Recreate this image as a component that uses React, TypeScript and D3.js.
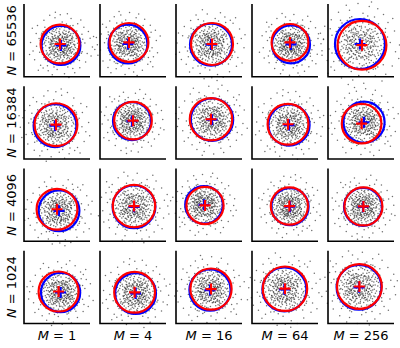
import React, { useEffect, useRef } from "react";
import * as d3 from "d3";

// row / column labels
const nLabels = ["65536", "16384", "4096", "1024"];
const mLabels = ["1", "4", "16", "64", "256"];

// fitted circle (red) per panel: [cx, cy, r], rows = N, cols = M
const redFits = [
  [[0.15, -0.18, 0.97], [-0.2, -0.1, 0.97], [0.15, -0.18, 1.05], [0.25, -0.1, 0.92], [0.05, -0.24, 1.22]],
  [[-0.05, -0.1, 1.07], [0.0, 0.1, 0.94], [0.1, 0.17, 1.06], [0.15, -0.08, 1.02], [0.03, -0.05, 0.99]],
  [[0.0, -0.22, 1.02], [0.05, -0.06, 1.06], [-0.2, -0.03, 0.93], [0.22, -0.06, 0.93], [0.12, -0.08, 0.95]],
  [[0.08, -0.22, 1.0], [0.08, -0.26, 1.02], [0.1, -0.1, 1.03], [0.0, -0.08, 1.11], [-0.08, 0.03, 1.12]],
];

// true circle (blue) per panel: [cx, cy, r]
const blueFits = [
  [[0.2, -0.25, 0.97], [-0.25, -0.18, 0.97], [0.1, -0.21, 1.05], [0.3, -0.2, 0.95], [-0.05, -0.18, 1.25]],
  [[-0.1, -0.15, 1.07], [-0.05, 0.08, 0.95], [0.15, 0.15, 1.06], [0.2, -0.12, 1.03], [0.15, 0.02, 1.03]],
  [[0.1, -0.3, 1.02], [0.05, -0.1, 1.07], [-0.25, 0.0, 0.94], [0.25, -0.09, 0.93], [0.1, -0.1, 0.95]],
  [[0.18, -0.27, 0.98], [0.13, -0.32, 1.02], [0.05, -0.15, 1.03], [-0.03, -0.12, 1.1], [-0.1, -0.01, 1.12]],
];

// sample cloud, in units of the circle radius
const cloud = [
  [0.12,-0.35],[-0.48,0.22],[0.71,0.05],[-0.09,0.63],[0.33,0.41],[-0.62,-0.47],[0.05,-0.81],[0.88,-0.29],[-0.27,-0.14],[0.44,-0.66],
  [-0.75,0.38],[0.19,0.92],[-0.36,0.71],[0.57,0.28],[-0.93,-0.12],[0.02,0.17],[0.66,-0.84],[-0.15,-0.55],[0.29,-0.07],[-0.52,0.04],
  [1.12,0.31],[-0.21,1.05],[0.39,0.66],[-0.81,-0.73],[0.14,-0.23],[-0.04,-0.38],[0.77,0.52],[-0.41,-0.92],[0.53,-0.41],[-0.68,0.81],
  [0.24,0.08],[-0.31,0.36],[0.91,-0.06],[-0.11,-1.02],[0.47,1.01],[-1.07,0.27],[0.08,0.45],[-0.58,-0.26],[0.36,-0.95],[-0.19,0.12],
  [0.62,-0.18],[-0.44,0.57],[0.17,-0.62],[-0.87,0.09],[0.49,0.13],[-0.23,-0.76],[0.81,0.74],[-0.06,0.84],[0.31,-0.31],[-0.71,-0.39],
  [0.03,-0.12],[0.58,0.47],[-0.37,-0.05],[0.26,0.29],[-0.54,0.93],[0.94,-0.51],[-0.12,0.31],[0.41,-0.14],[-0.96,-0.44],[0.09,0.68],
  [-0.29,-0.33],[0.72,-0.43],[-0.63,0.18],[0.21,-0.48],[-0.08,0.51],[0.55,0.88],[-0.79,-0.02],[0.35,-1.12],[-0.46,0.44],[1.03,0.16],
  [-0.17,-0.21],[0.13,0.33],[-0.56,-0.61],[0.68,0.21],[-0.33,0.98],[0.46,-0.28],[-1.01,0.53],[0.11,-0.41],[-0.24,0.66],[0.84,-0.72],
  [-0.02,-0.64],[0.39,0.19],[-0.67,-0.83],[0.16,0.78],[-0.43,-0.18],[0.74,-0.11],[-0.14,0.44],[0.52,-0.57],[-0.89,0.31],[0.27,-0.86],
  [-0.51,0.27],[0.06,0.02],[0.63,0.61],[-0.34,-0.49],[0.98,0.37],[-0.72,0.63],[0.18,-0.17],[-0.07,-0.88],[0.43,0.83],[-0.61,-0.11],
  [0.32,-0.52],[-0.26,0.19],[0.85,0.11],[-0.47,-0.71],[0.01,0.95],[0.59,-0.33],[-0.82,-0.58],[0.22,0.57],[-0.13,-0.29],[0.69,-0.64],
  [-0.39,0.83],[0.1,-0.74],[-0.66,0.45],[0.37,0.04],[-0.18,-0.43],[0.79,0.35],[-0.53,-0.35],[0.25,-0.25],[-0.92,0.71],[0.48,0.52],
  [-0.28,0.05],[0.15,-0.97],[-0.59,0.66],[0.67,-0.23],[-0.04,0.27],[0.42,0.71],[-0.76,-0.28],[0.3,-0.69],[-0.22,0.87],[0.9,0.24],
  [-0.49,-0.03],[0.07,-0.31],[0.61,0.39],[-0.35,-0.64],[0.2,0.41],[-0.84,0.16],[0.54,-0.79],[-0.1,0.72],[0.34,-0.01],[-0.65,-0.53],
  [0.76,0.63],[-0.2,-0.09],[0.12,0.61],[-0.42,0.36],[0.86,-0.36],[-0.01,-0.49],[0.45,0.25],[-0.74,0.54],[0.28,-0.43],[-0.3,-0.81],
  [0.64,0.06],[-0.55,0.12],[0.04,0.38],[0.5,-0.95],[-0.97,-0.24],[0.23,0.96],[-0.16,-0.67],[0.73,-0.55],[-0.45,0.74],[0.38,-0.2],
  [-0.06,-0.16],[0.56,0.34],[-0.69,-0.71],[0.14,-0.53],[-0.32,0.48],[0.95,0.02],[-0.25,-0.37],[0.4,0.9],[-0.78,0.25],[0.19,-0.05],
  [-0.57,-0.44],[0.66,-0.46],[-0.03,0.58],[0.31,0.17],[-0.88,-0.62],[0.5,-0.12],[-0.14,0.96],[0.8,0.45],[-0.4,-0.25],[0.09,-0.85],
  [-0.63,0.35],[0.26,0.73],[-0.21,-0.57],[0.7,-0.02],[-0.5,0.61],[0.35,-0.62],[-0.95,0.04],[0.12,0.24],[-0.37,-0.99],[0.6,0.77],
  [-0.12,0.4],[0.83,-0.17],[-0.6,-0.15],[0.17,-0.37],[-0.27,0.79],[0.51,0.6],[-0.73,-0.46],[0.29,0.48],[-0.09,-0.72],[0.75,-0.38],
  [1.35,-0.42],[-1.28,0.61],[0.52,1.38],[-0.66,-1.31],[1.5,0.37],[-1.44,-0.29],[0.18,-1.46],[-0.31,1.42],[1.18,0.94],[-1.05,-1.02],
  [0.97,-1.15],[-1.21,1.03],[1.62,-0.08],[-0.04,1.58],[1.27,-0.86],[-1.57,0.15],[0.71,-1.41],[-0.88,1.29],[1.41,0.71],[-1.36,-0.74],
  [0.33,1.63],[-0.45,-1.52],[1.09,-0.33],[-1.13,0.35],[0.86,1.12],[-0.92,-1.16],[1.23,0.12],[-0.2,-1.24],[0.06,1.21],[-1.26,-0.05],
  [1.55,-0.55],[-0.58,1.55],[0.61,-1.19],[-1.48,0.88],[1.02,1.31],[-1.17,-1.28],[1.68,0.46],[-1.62,-0.47],[0.41,-1.66],[-0.29,1.71],
  [1.05,-0.41],[-0.99,0.62],[0.62,1.02],[-0.7,-1.05],[1.08,0.58],[-1.1,-0.35],[0.28,1.1],[-0.36,-1.12],[0.95,-0.78],[-0.83,0.93],
];

// denser core of the cloud
const core = [
  [0.05,0.12],[-0.18,0.31],[0.27,-0.09],[-0.33,-0.22],[0.14,0.44],[-0.41,0.08],[0.38,0.27],[-0.07,-0.46],[0.21,-0.33],[-0.26,0.49],
  [0.46,-0.18],[-0.52,-0.31],[0.09,-0.2],[-0.13,0.02],[0.32,0.09],[-0.29,-0.41],[0.17,0.26],[-0.45,0.36],[0.53,0.14],[-0.02,0.35],
  [0.24,-0.52],[-0.36,-0.08],[0.41,0.42],[-0.11,-0.29],[0.07,0.55],[-0.57,0.17],[0.3,-0.37],[-0.2,0.18],[0.12,-0.05],[-0.47,-0.16],
  [0.56,-0.04],[-0.08,0.24],[0.19,0.37],[-0.31,-0.54],[0.44,-0.41],[-0.16,0.57],[0.02,-0.34],[-0.39,0.27],[0.34,-0.24],[-0.24,-0.12],
  [0.15,0.08],[-0.5,0.45],[0.49,0.33],[-0.04,-0.56],[0.26,0.18],[-0.22,-0.35],[0.08,-0.43],[-0.34,0.13],[0.37,-0.01],[-0.14,0.4],
  [0.58,-0.27],[-0.43,-0.43],[0.11,0.3],[-0.27,0.04],[0.22,0.5],[-0.55,-0.03],[0.31,-0.47],[-0.05,0.15],[0.43,0.2],[-0.19,-0.23],
  [0.04,-0.14],[-0.37,0.54],[0.28,0.35],[-0.1,-0.4],[0.5,-0.1],[-0.3,0.3],[0.16,-0.28],[-0.48,0.06],[0.36,0.52],[-0.23,-0.5],
  [0.01,0.43],[-0.4,-0.27],[0.47,0.05],[-0.15,-0.15],[0.2,-0.16],[-0.6,0.26],[0.13,0.2],[-0.06,-0.25],[0.39,-0.33],[-0.28,0.41],
  [0.25,0.03],[-0.35,-0.37],[0.06,0.33],[-0.53,0.34],[0.54,0.4],[-0.12,-0.48],[0.33,0.14],[-0.25,-0.02],[0.1,-0.55],[-0.44,0.2],
  [0.42,-0.5],[-0.01,0.06],[0.29,0.46],[-0.38,-0.19],[0.18,-0.42],[-0.09,0.5],[0.52,-0.35],[-0.32,0.22],[0.03,0.26],[-0.21,-0.44],
];

// the 8 flips/swaps of the square, so each panel's cloud looks different
const flips = [
  (p) => [p[0], p[1]], (p) => [-p[1], p[0]], (p) => [-p[0], -p[1]], (p) => [p[1], -p[0]],
  (p) => [p[1], p[0]], (p) => [-p[0], p[1]], (p) => [p[0], -p[1]], (p) => [-p[1], -p[0]],
];

export default function App() {
  const svgRef = useRef(null);

  useEffect(() => {
    const width = 400;
    const height = 348;
    const svg = d3.select(svgRef.current);
    svg.selectAll("*").remove();
    svg.attr("width", width).attr("height", height);

    const font = "DejaVu Sans, sans-serif";

    const col = d3.scaleBand().domain(mLabels).range([24, 394]).paddingInner(10 / 76);
    const row = d3.scaleBand().domain(nLabels).range([4, 323.5]).paddingInner(9.5 / 82.5);

    nLabels.forEach((n, ri) => {
      mLabels.forEach((m, ci) => {
        const x0 = col(m);
        const y0 = row(n);
        const w = col.bandwidth();
        const h = row.bandwidth();
        const k = 20; // px per unit
        const x = d3.scaleLinear().domain([-w / 2 / k, w / 2 / k]).range([x0, x0 + w]);
        const y = d3.scaleLinear().domain([-h / 2 / k, h / 2 / k]).range([y0 + h, y0]);
        const rpx = (r) => x(r) - x(0);

        const g = svg.append("g");
        const red = redFits[ri][ci];
        const blue = blueFits[ri][ci];
        const flip = flips[(ri * 5 + ci) % 8];
        const flip2 = flips[(ri * 5 + ci + 3) % 8];
        const pts = cloud.map(flip).concat(core.map(flip2));

        g.selectAll("circle.pt")
          .data(pts)
          .enter()
          .append("circle")
          .attr("class", "pt")
          .attr("cx", (d) => x(blue[0] + d[0] * blue[2]))
          .attr("cy", (d) => y(blue[1] + d[1] * blue[2]))
          .attr("r", 0.75)
          .attr("fill", "#222")
          .attr("fill-opacity", 0.65);

        const ring = (c, color) =>
          g.append("circle")
            .attr("cx", x(c[0]))
            .attr("cy", y(c[1]))
            .attr("r", rpx(c[2]))
            .attr("fill", "none")
            .attr("stroke", color)
            .attr("stroke-width", 2.2);
        ring(blue, "#0000ff");
        ring(red, "#ff0000");

        const cross = (c, color) => {
          const cx = x(c[0]);
          const cy = y(c[1]);
          const a = 5.5;
          g.append("path")
            .attr("d", `M${cx - a},${cy}H${cx + a}M${cx},${cy - a}V${cy + a}`)
            .attr("stroke", color)
            .attr("stroke-width", 2.2)
            .attr("fill", "none");
        };
        cross(blue, "#0000ff");
        cross(red, "#ff0000");

        // spines: left and bottom only
        g.append("path")
          .attr("d", `M${x0},${y0}V${y0 + h}H${x0 + w}`)
          .attr("stroke", "#000")
          .attr("stroke-width", 1.6)
          .attr("fill", "none");
      });
    });

    // column labels
    mLabels.forEach((m) => {
      const t = svg.append("text")
        .attr("x", col(m) + col.bandwidth() / 2)
        .attr("y", 340)
        .attr("text-anchor", "middle")
        .attr("font-family", font)
        .attr("font-size", 13);
      t.append("tspan").attr("font-style", "italic").text("M");
      t.append("tspan").text(` = ${m}`);
    });

    // row labels
    nLabels.forEach((n) => {
      const cy = row(n) + row.bandwidth() / 2;
      const t = svg.append("text")
        .attr("transform", `translate(16,${cy}) rotate(-90)`)
        .attr("text-anchor", "middle")
        .attr("font-family", font)
        .attr("font-size", 13);
      t.append("tspan").attr("font-style", "italic").text("N");
      t.append("tspan").text(` = ${n}`);
    });
  }, []);

  return <svg ref={svgRef} style={{ position: "absolute", left: 0, top: 0 }}></svg>;
}
